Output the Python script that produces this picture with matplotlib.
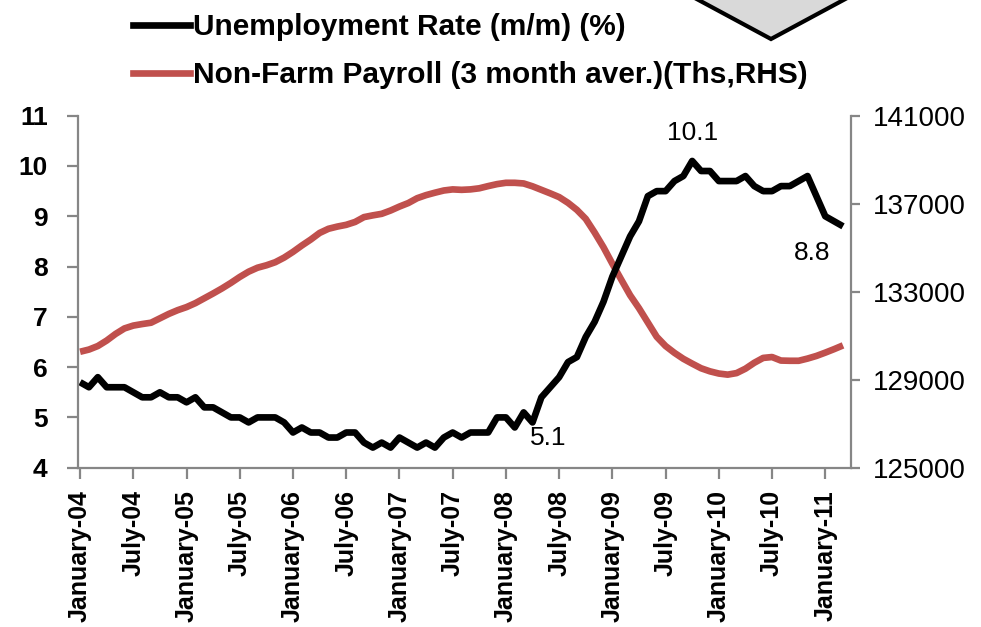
import numpy as np
import matplotlib
matplotlib.use("Agg")
import matplotlib.pyplot as plt
from matplotlib.lines import Line2D
from matplotlib.patches import Polygon

plt.rcParams['font.family'] = ['Liberation Sans', 'DejaVu Sans']

# ---- data (monthly, January 2004 - March 2011) ----
unemployment = [
    5.7, 5.6, 5.8, 5.6, 5.6, 5.6, 5.5, 5.4, 5.4, 5.5, 5.4, 5.4,   # 2004
    5.3, 5.4, 5.2, 5.2, 5.1, 5.0, 5.0, 4.9, 5.0, 5.0, 5.0, 4.9,   # 2005
    4.7, 4.8, 4.7, 4.7, 4.6, 4.6, 4.7, 4.7, 4.5, 4.4, 4.5, 4.4,   # 2006
    4.6, 4.5, 4.4, 4.5, 4.4, 4.6, 4.7, 4.6, 4.7, 4.7, 4.7, 5.0,   # 2007
    5.0, 4.8, 5.1, 4.9, 5.4, 5.6, 5.8, 6.1, 6.2, 6.6, 6.9, 7.3,   # 2008
    7.8, 8.2, 8.6, 8.9, 9.4, 9.5, 9.5, 9.7, 9.8, 10.1, 9.9, 9.9,  # 2009
    9.7, 9.7, 9.7, 9.8, 9.6, 9.5, 9.5, 9.6, 9.6, 9.7, 9.8, 9.4,   # 2010
    9.0, 8.9, 8.8,                                                # 2011
]

payroll = [
    130270, 130370, 130530, 130780, 131080, 131330, 131460, 131530, 131590, 131790, 131990, 132160,
    132300, 132480, 132700, 132920, 133150, 133400, 133670, 133910, 134090, 134200, 134340, 134550,
    134810, 135100, 135370, 135670, 135860, 135960, 136040, 136170, 136390, 136470, 136540, 136690,
    136870, 137030, 137250, 137390, 137500, 137600, 137650, 137630, 137650, 137700, 137800, 137890,
    137950, 137950, 137920, 137790, 137630, 137470, 137300, 137040, 136720, 136310, 135690, 135020,
    134270, 133550, 132840, 132250, 131600, 130950, 130530, 130220, 129950, 129730, 129520, 129380,
    129280, 129230, 129300, 129500, 129770, 129990, 130030, 129870, 129860, 129860, 129960, 130080,
    130230, 130390, 130560,
]

tick_labels = ['January-04', 'July-04', 'January-05', 'July-05', 'January-06', 'July-06',
               'January-07', 'July-07', 'January-08', 'July-08', 'January-09', 'July-09',
               'January-10', 'July-10', 'January-11']

left_ticks = [4, 5, 6, 7, 8, 9, 10, 11]
right_ticks = [125000, 129000, 133000, 137000, 141000]

label_unemp = 'Unemployment Rate (m/m) (%)'
label_payroll = 'Non-Farm Payroll (3 month aver.)(Ths,RHS)'

# annotated points: (month index, value, text)
ann_peak = (69, 10.1, '10.1')
ann_low = (50, 5.1, '5.1')
ann_last = (86, 8.8, '8.8')

# ---- figure ----
W, H = 981, 627
fig = plt.figure(figsize=(W / 100, H / 100), dpi=100)
L, R, T, B = 78.3, 851, 115.7, 467.7
ax = fig.add_axes([L / W, 1 - B / H, (R - L) / W, (B - T) / H])
ax2 = ax.twinx()

months = np.arange(len(unemployment))
red = '#C0504D'
grey = '#868686'

ax2.plot(months, payroll, color=red, lw=4.8, solid_capstyle='butt')
ax.plot(months, unemployment, color='black', lw=4.8, solid_capstyle='butt')
ax.set_zorder(ax2.get_zorder() + 1)
ax.patch.set_visible(False)

ax.set_xlim(-0.2, 86.9)
ax.set_ylim(4, 11)
ax2.set_ylim(125000, 141000)

ax.set_xticks(np.arange(0, 85, 6))
ax.set_xticklabels(tick_labels, rotation=90, fontsize=18, fontweight='bold')
ax.set_yticks(left_ticks)
ax.set_yticklabels([str(v) for v in left_ticks], fontsize=19, fontweight='bold')
ax2.set_yticks(right_ticks)
ax2.set_yticklabels([str(v) for v in right_ticks], fontsize=20)

for a in (ax, ax2):
    a.spines['top'].set_visible(False)
    for s in a.spines.values():
        s.set_color(grey)
        s.set_linewidth(1.6)
ax.spines['right'].set_visible(False)
ax2.spines['left'].set_visible(False)
ax2.spines['bottom'].set_visible(False)

ax.tick_params(axis='y', direction='out', length=8, width=1.6, color=grey, pad=14, labelcolor='black')
ax.tick_params(axis='x', direction='out', length=8, width=1.6, color=grey, pad=8, labelcolor='black')
ax2.tick_params(axis='y', direction='out', length=6.5, width=1.6, color=grey, pad=9, labelcolor='black')

# annotations
ax.annotate(ann_peak[2], xy=ann_peak[:2], xytext=(0, 20), textcoords='offset points',
            ha='center', va='center', fontsize=19)
ax.annotate(ann_low[2], xy=ann_low[:2], xytext=(17.5, -18.5), textcoords='offset points',
            ha='center', va='center', fontsize=19)
ax.annotate(ann_last[2], xy=ann_last[:2], xytext=(-22, -19.5), textcoords='offset points',
            ha='center', va='center', fontsize=19)

# legend
handles = [Line2D([], [], color='black', lw=4.8), Line2D([], [], color=red, lw=4.8)]
fig.legend(handles, [label_unemp, label_payroll], loc='upper left',
           bbox_to_anchor=(133 / W, 1 - 13 / H), frameon=False, borderpad=0, borderaxespad=0,
           handlelength=1.9, handletextpad=0.1, labelspacing=0.68,
           prop={'family': 'Liberation Sans', 'weight': 'bold', 'size': 21.5})

# grey diamond pointer at top right (decoration)
pts = [(680 / W, 1 + 10 / H), (771 / W, 1 - 39 / H), (862 / W, 1 + 10 / H)]
fig.patches.append(Polygon(pts, closed=True, transform=fig.transFigure,
                           facecolor='#D9D9D9', edgecolor='black', lw=3))

fig.savefig('out.png', dpi=100)
